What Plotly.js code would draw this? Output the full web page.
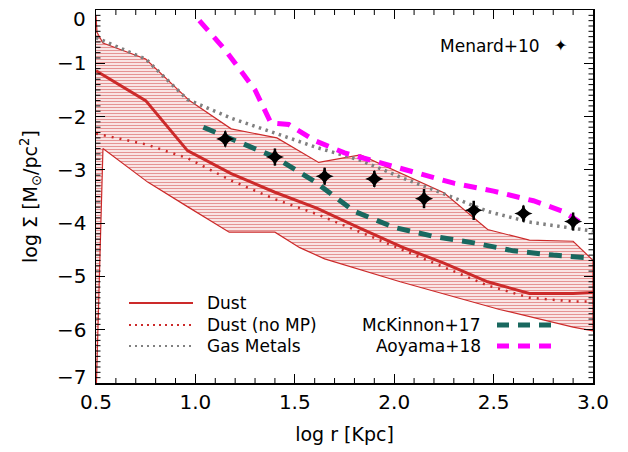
<!DOCTYPE html>
<html>
<head>
<meta charset="utf-8">
<script src="https://cdn.plot.ly/plotly-3.0.1.min.js"></script>
<style>html,body{margin:0;padding:0;background:#fff;}#chart{width:628px;height:452px;}</style>
</head>
<body>
<div id="chart"></div>
<script>
// Shaded dust range (upper and lower edges)
var bandUpR = [0.5, 0.505, 0.535, 0.75, 0.97, 1.18, 1.41, 1.62, 1.83, 2.04, 2.25, 2.47, 2.68, 2.90, 3.0];
var bandUpV = [-0.1, -0.42, -0.62, -0.92, -1.70, -2.23, -2.40, -2.86, -2.72, -3.08, -3.43, -4.12, -4.32, -4.34, -4.70];
var bandLoR = [0.5, 0.535, 0.76, 0.96, 1.17, 1.40, 1.525, 1.65, 2.03, 2.53, 2.90, 3.0];
var bandLoV = [-7.3, -2.60, -3.23, -3.69, -4.17, -4.17, -4.46, -4.67, -5.10, -5.62, -5.95, -6.02];

// Simulation radial bins
var simR = [0.5, 0.75, 0.96, 1.18, 1.40, 1.61, 1.83, 2.04, 2.25, 2.47, 2.68, 2.90, 3.0];
var dust = [-1.14, -1.70, -2.64, -3.07, -3.42, -3.72, -4.10, -4.45, -4.75, -5.10, -5.32, -5.32, -5.30];
var dustNoMP = [-2.32, -2.52, -2.78, -3.20, -3.55, -3.83, -4.17, -4.50, -4.82, -5.17, -5.40, -5.47, -5.47];
var gasMetals = [-0.52, -0.92, -1.68, -2.03, -2.31, -2.58, -2.82, -3.15, -3.45, -3.78, -3.98, -4.10, -4.15];

// McKinnon+17
var mckR = [1.04, 1.20, 1.40, 1.60, 1.80, 2.00, 2.20, 2.40, 2.60, 2.80, 3.00];
var mckV = [-2.20, -2.44, -2.76, -3.22, -3.78, -4.08, -4.25, -4.37, -4.52, -4.60, -4.66];

// Aoyama+18
var aoyR = [1.02, 1.15, 1.30, 1.38, 1.47, 1.60, 1.75, 1.90, 2.10, 2.30, 2.50, 2.70, 2.85, 2.93];
var aoyV = [-0.20, -0.75, -1.50, -2.12, -2.15, -2.45, -2.68, -2.84, -3.06, -3.25, -3.40, -3.58, -3.78, -3.97];

// Menard+10
var menR = [1.15, 1.40, 1.65, 1.90, 2.15, 2.40, 2.65, 2.90];
var menV = [-2.42, -2.76, -3.12, -3.17, -3.54, -3.76, -3.82, -3.97];
var menErr = [0.14, 0.16, 0.16, 0.15, 0.18, 0.18, 0.15, 0.17];

// Axis ticks
var xTicks = [0.5, 1.0, 1.5, 2.0, 2.5, 3.0];
var xTickText = ["0.5", "1.0", "1.5", "2.0", "2.5", "3.0"];
var yTicks = [0, -1, -2, -3, -4, -5, -6, -7];
var yTickText = ["0", "\u22121", "\u22122", "\u22123", "\u22124", "\u22125", "\u22126", "\u22127"];

var legendLeft = ["Dust", "Dust (no MP)", "Gas Metals"];
var legendRight = ["McKinnon+17", "Aoyama+18"];
var menLabel = "Menard+10";

var RED = '#cc2a2a';
var polyX = bandUpR.concat(bandLoR.slice().reverse());
var polyY = bandUpV.concat(bandLoV.slice().reverse());

var traces = [
  {x: polyX, y: polyY, type: 'scatter', mode: 'lines', fill: 'toself',
   fillcolor: 'rgba(255,255,255,0)',
   fillpattern: {shape: '-', fgcolor: RED, bgcolor: 'rgba(255,255,255,0)', size: 3, solidity: 0.5, fillmode: 'overlay'},
   line: {color: RED, width: 1.2}, hoverinfo: 'skip', showlegend: false},
  {x: simR, y: gasMetals, type: 'scatter', mode: 'lines',
   line: {color: '#808080', width: 3.5, dash: '2.5px,4.5px'}, showlegend: false},
  {x: simR, y: dustNoMP, type: 'scatter', mode: 'lines',
   line: {color: RED, width: 2.5, dash: '2px,6px'}, showlegend: false},
  {x: simR, y: dust, type: 'scatter', mode: 'lines',
   line: {color: RED, width: 3}, showlegend: false},
  {x: mckR, y: mckV, type: 'scatter', mode: 'lines',
   line: {color: '#19685f', width: 5, dash: '13px,9px'}, showlegend: false},
  {x: aoyR, y: aoyV, type: 'scatter', mode: 'lines',
   line: {color: '#ff00ff', width: 5, dash: '13px,9px'}, showlegend: false},
  {x: menR, y: menV, type: 'scatter', mode: 'markers',
   marker: {symbol: 'star-diamond', size: 13, color: 'black', line: {width: 0}},
   error_y: {type: 'data', array: menErr, visible: true, color: 'black', thickness: 2.5, width: 0},
   showlegend: false}
];

var F = 'DejaVu Sans, sans-serif';
var L = 96, R = 35, T = 10, B = 69, W = 628, H = 452;
function px2x(p) { return (p - L) / (W - L - R); }
function py2y(p) { return (H - B - p) / (H - T - B); }

var shapes = [], annotations = [];

// minor ticks (axis decoration), every 0.1 on both axes, on all four sides
var k, v;
for (k = 0; k <= 25; k++) {
  v = 0.5 + k * 0.1;
  if (k % 5 === 0) continue;
  shapes.push({type: 'line', xref: 'x', yref: 'paper', ysizemode: 'pixel', yanchor: 0,
    x0: v, x1: v, y0: 0, y1: 5, line: {color: 'black', width: 1}});
  shapes.push({type: 'line', xref: 'x', yref: 'paper', ysizemode: 'pixel', yanchor: 1,
    x0: v, x1: v, y0: 0, y1: -5, line: {color: 'black', width: 1}});
}
for (k = 0; k <= 70; k++) {
  v = -k * 0.1;
  if (k % 10 === 0) continue;
  shapes.push({type: 'line', yref: 'y', xref: 'paper', xsizemode: 'pixel', xanchor: 0,
    y0: v, y1: v, x0: 0, x1: 4.5, line: {color: 'black', width: 1}});
  shapes.push({type: 'line', yref: 'y', xref: 'paper', xsizemode: 'pixel', xanchor: 1,
    y0: v, y1: v, x0: 0, x1: -4.5, line: {color: 'black', width: 1}});
}

// y tick labels placed like the reference (end labels nudged inward)
for (k = 0; k < yTicks.length; k++) {
  var shift = 0;
  if (k === 0) shift = -9;
  if (k === yTicks.length - 1) shift = 6;
  annotations.push({xref: 'paper', yref: 'y', x: px2x(88), y: yTicks[k], yshift: shift,
    xanchor: 'right', yanchor: 'middle', showarrow: false, text: yTickText[k],
    font: {family: F, size: 20, color: 'black'}});
}

var leftY = [303, 325, 346];
var leftStyles = [
  {color: RED, width: 2, dash: 'solid'},
  {color: RED, width: 2, dash: '2px,4px'},
  {color: '#808080', width: 2, dash: '2px,4px'}
];
for (var i = 0; i < legendLeft.length; i++) {
  shapes.push({type: 'line', xref: 'paper', yref: 'paper', x0: px2x(129), x1: px2x(193),
    y0: py2y(leftY[i]), y1: py2y(leftY[i]), line: leftStyles[i]});
  annotations.push({xref: 'paper', yref: 'paper', x: px2x(205), y: py2y(leftY[i]),
    xanchor: 'left', yanchor: 'middle', showarrow: false, text: legendLeft[i],
    font: {family: F, size: 17, color: 'black'}});
}
var rightY = [325, 346];
var rightColors = ['#19685f', '#ff00ff'];
for (var j = 0; j < legendRight.length; j++) {
  shapes.push({type: 'line', xref: 'paper', yref: 'paper', x0: px2x(497), x1: px2x(558),
    y0: py2y(rightY[j]), y1: py2y(rightY[j]), line: {color: rightColors[j], width: 5, dash: '12px,9px'}});
  annotations.push({xref: 'paper', yref: 'paper', x: px2x(483), y: py2y(rightY[j]),
    xanchor: 'right', yanchor: 'middle', showarrow: false, text: legendRight[j],
    font: {family: F, size: 17, color: 'black'}});
}
annotations.push({xref: 'paper', yref: 'paper', x: px2x(542), y: py2y(46),
  xanchor: 'right', yanchor: 'middle', showarrow: false, text: menLabel,
  font: {family: F, size: 17, color: 'black'}});
annotations.push({xref: 'paper', yref: 'paper', x: px2x(560), y: py2y(46),
  xanchor: 'center', yanchor: 'middle', showarrow: false, text: '\u2726',
  font: {family: F, size: 16, color: 'black'}});

var axisCommon = {
  ticks: 'inside', ticklen: 9, tickwidth: 1.2, tickcolor: 'black',
  mirror: 'allticks', showline: true, linewidth: 1.5, linecolor: 'black',
  showgrid: false, zeroline: false,
  tickfont: {family: F, size: 20, color: 'black'}
};

var layout = {
  width: W, height: H,
  margin: {l: L, r: R, t: T, b: B},
  paper_bgcolor: 'white', plot_bgcolor: 'white',
  showlegend: false,
  xaxis: Object.assign({}, axisCommon, {
    range: [0.5, 3.0], tickmode: 'array', tickvals: xTicks, ticktext: xTickText,
    title: {text: 'log r [Kpc]', font: {family: F, size: 19, color: 'black'}, standoff: 15}
  }),
  yaxis: Object.assign({}, axisCommon, {
    range: [-7, 0], tickmode: 'array', tickvals: yTicks, ticktext: yTickText,
    showticklabels: false,
    title: {text: 'log \u03A3 [M<sub>\u2299</sub>/pc<sup>2</sup>]', font: {family: F, size: 19, color: 'black'}, standoff: 52}
  }),
  shapes: shapes,
  annotations: annotations
};

Plotly.newPlot('chart', traces, layout, {staticPlot: true, displayModeBar: false});
</script>
</body>
</html>
